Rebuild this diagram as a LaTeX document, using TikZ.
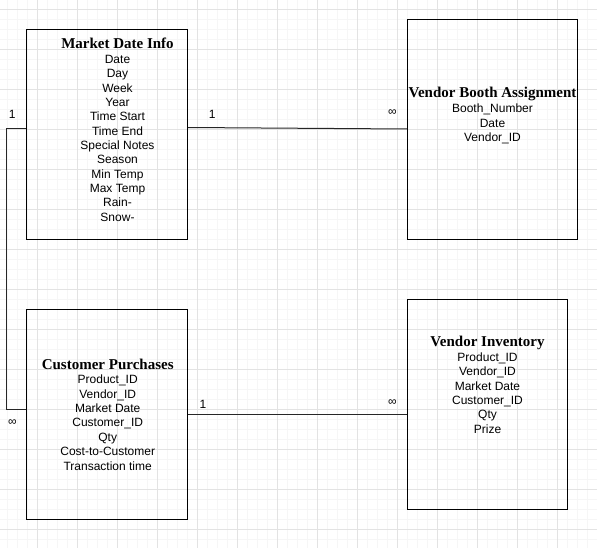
\documentclass[tikz,border=0pt]{standalone}
\usepackage{fontspec}
\setmainfont{Liberation Sans}
\newfontfamily\serifbold{Liberation Serif}
\begin{document}
\begin{tikzpicture}[x=1bp,y=-1bp,
  gridminor/.style={draw=black!3.5,line width=0.8bp},
  gridmajor/.style={draw=black!11,line width=0.8bp},
  entity/.style={draw=black,line width=1bp,inner sep=0pt,minimum width=160.4bp},
  etitle/.style={anchor=base,inner sep=0pt,font=\fontsize{15bp}{18bp}\selectfont\serifbold\bfseries},
  eitems/.style={anchor=base,inner sep=0pt,align=center,font=\fontsize{12bp}{14.35bp}\selectfont},
  rel/.style={draw=black!85,line width=1bp},
  card/.style={inner sep=0pt,font=\fontsize{12bp}{14bp}\selectfont},
  many/.style={inner sep=0pt,font=\fontsize{12bp}{14bp}\selectfont}]
\useasboundingbox (0,0) rectangle (597,548);
% grid
\foreach \x in {7.3,17.3,...,597} \draw[gridminor] (\x,0) -- (\x,548);
\foreach \y in {9.3,19.3,...,548} \draw[gridminor] (0,\y) -- (597,\y);
\foreach \x in {37.3,77.3,...,597} \draw[gridmajor] (\x,0) -- (\x,548);
\foreach \y in {9.3,49.3,...,548} \draw[gridmajor] (0,\y) -- (597,\y);
% entities
\node[entity,minimum height=209.7bp] (mdi) at (107.2,134.2) {};
\node[entity,minimum height=209.6bp] (cp) at (107.2,414.5) {};
\node[entity,minimum width=170.4bp,minimum height=220bp] (vba) at (492.5,129.3) {};
\node[entity,minimum height=210bp] (vi) at (487.5,404.3) {};
% texts (base anchor = baseline of the last line)
\node[etitle] (mdiT) at (117.5,48.7) {Market Date Info};
\node[eitems] (mdiL) at (117.5,221.2) {Date\\Day\\Week\\Year\\Time Start\\Time End\\Special Notes\\Season\\Min Temp\\Max Temp\\Rain-\\Snow-};
\node[etitle] (cpT) at (107.7,369) {Customer Purchases};
\node[eitems] (cpL) at (107.7,470) {Product\_ID\\Vendor\_ID\\Market Date\\Customer\_ID\\Qty\\Cost-to-Customer\\Transaction time};
\node[etitle] (vbaT) at (492.5,97.7) {Vendor Booth Assignment};
\node[eitems] (vbaL) at (492.5,141.6) {Booth\_Number\\Date\\Vendor\_ID};
\node[etitle] (viT) at (487.5,346) {Vendor Inventory};
\node[eitems] (viL) at (487.5,433.3) {Product\_ID\\Vendor\_ID\\Market Date\\Customer\_ID\\Qty\\Prize};
% relationships
\draw[rel] (mdi.east |- 0,127.5) -- (vba.west |- 0,129);
\draw[rel] (mdi.west |- 0,128.7) -- ++(-19.7,0) |- (cp.west |- 0,409);
\draw[rel] (cp.east |- 0,414) -- (vi.west |- 0,414);
% cardinalities
\node[card] (c1) at (212.3,114) {1};
\node[many] (c2) at (392.3,112.7) {∞};
\node[card] (c3) at (12.3,114) {1};
\node[many] (c4) at (12.3,422.7) {∞};
\node[card] (c5) at (203,404) {1};
\node[many] (c6) at (392.3,402.7) {∞};
\end{tikzpicture}
\end{document}
